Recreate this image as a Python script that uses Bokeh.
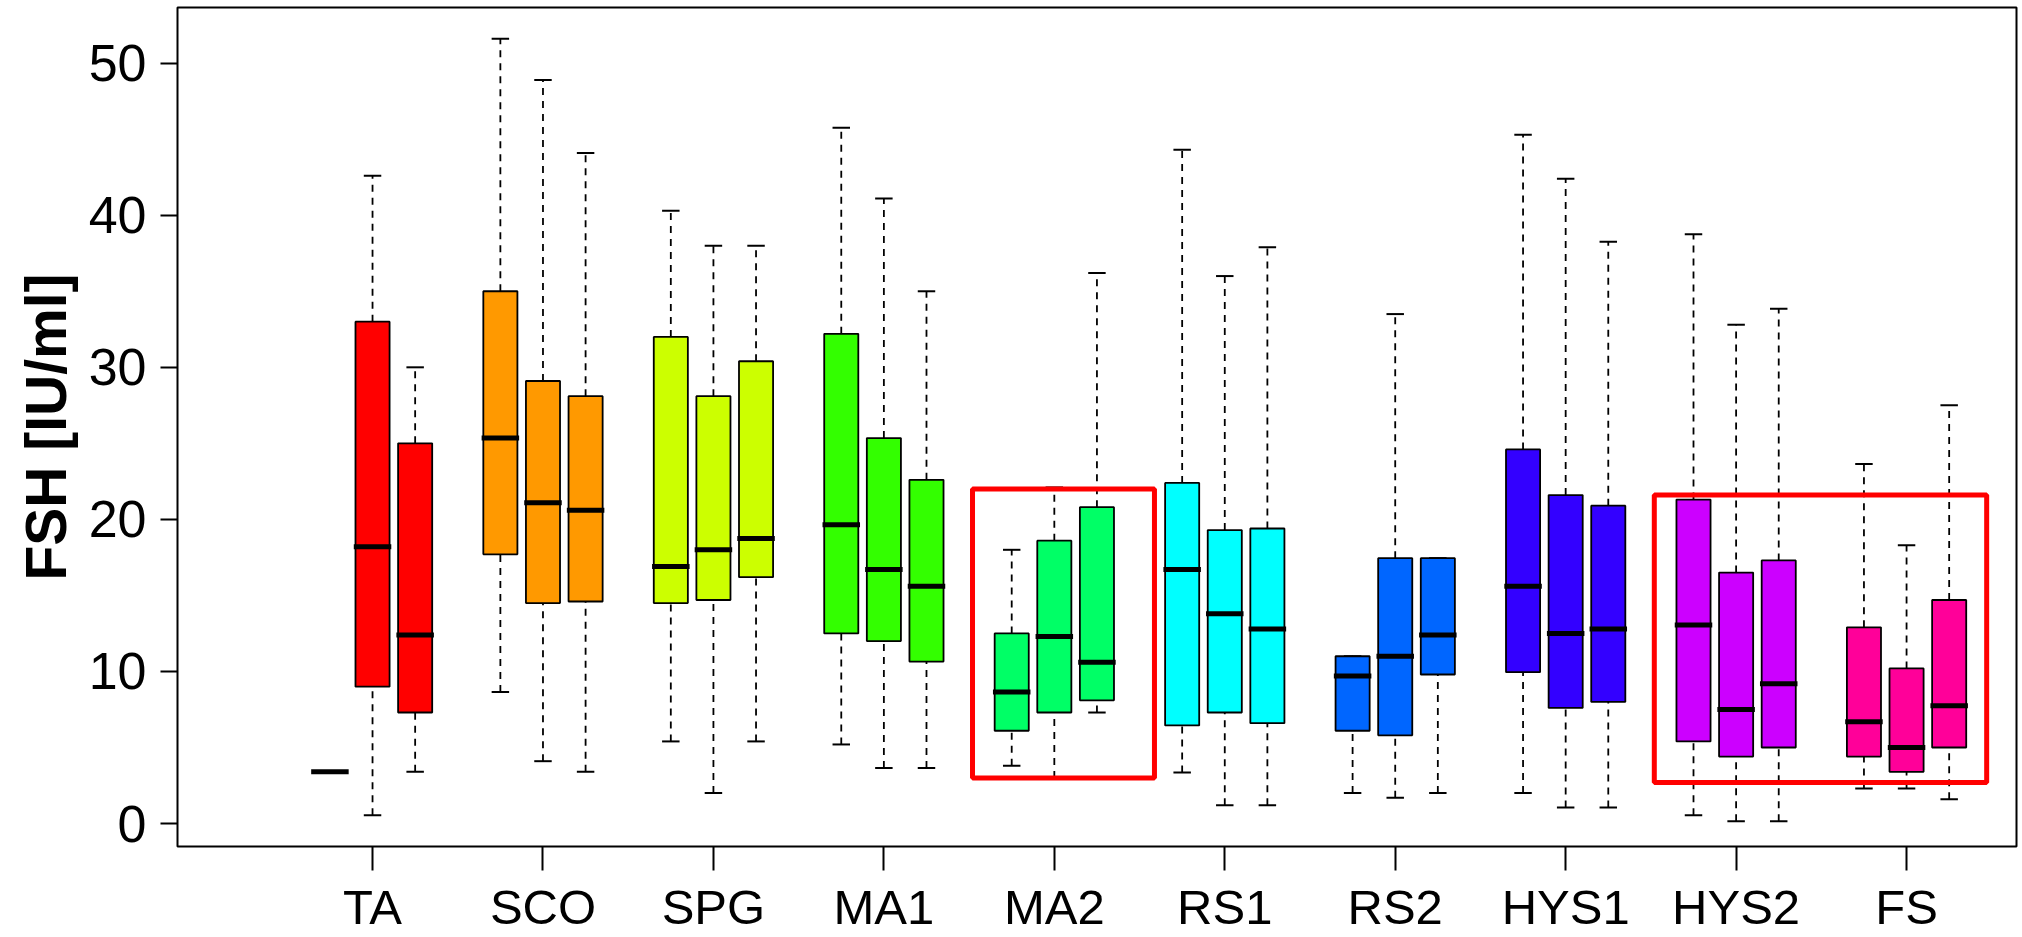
from bokeh.plotting import figure
from bokeh.models import Range1d, FixedTicker, ColumnDataSource
from bokeh.embed import file_html
from bokeh.resources import INLINE

groups = ["TA", "SCO", "SPG", "MA1", "MA2", "RS1", "RS2", "HYS1", "HYS2", "FS"]
colors = ["#FF0000", "#FF9900", "#CCFF00", "#33FF00", "#00FF66",
          "#00FFFF", "#0066FF", "#3300FF", "#CC00FF", "#FF0099"]

# three boxes per group: lower whisker, Q1, median, Q3, upper whisker
whisker_low = [[3.4, 0.55, 3.4], [8.65, 4.1, 3.4], [5.4, 2.0, 5.4], [5.2, 3.65, 3.65],
               [3.8, 3.0, 7.3], [3.35, 1.2, 1.2], [2.0, 1.7, 2.0], [2.0, 1.05, 1.05],
               [0.55, 0.15, 0.15], [2.3, 2.3, 1.6]]
q1 = [[3.4, 9.0, 7.3], [17.7, 14.5, 14.6], [14.5, 14.7, 16.2], [12.5, 12.0, 10.65],
      [6.1, 7.3, 8.1], [6.45, 7.3, 6.6], [6.1, 5.8, 9.8], [9.95, 7.6, 8.0],
      [5.4, 4.4, 5.0], [4.4, 3.4, 5.0]]
median = [[3.4, 18.2, 12.4], [25.35, 21.1, 20.6], [16.9, 18.0, 18.75], [19.65, 16.7, 15.6],
          [8.65, 12.3, 10.6], [16.7, 13.8, 12.8], [9.7, 11.0, 12.4], [15.6, 12.5, 12.8],
          [13.05, 7.5, 9.2], [6.7, 5.0, 7.75]]
q3 = [[3.4, 33.0, 25.0], [35.0, 29.1, 28.1], [32.0, 28.1, 30.4], [32.2, 25.35, 22.6],
      [12.5, 18.6, 20.8], [22.4, 19.3, 19.4], [11.0, 17.45, 17.45], [24.6, 21.6, 20.9],
      [21.3, 16.5, 17.3], [12.9, 10.2, 14.7]]
whisker_high = [[3.4, 42.6, 30.0], [51.6, 48.9, 44.1], [40.3, 38.0, 38.0], [45.75, 41.1, 35.0],
                [18.0, 22.1, 36.2], [44.3, 36.0, 37.9], [11.0, 33.5, 17.45], [45.3, 42.4, 38.25],
                [38.75, 32.8, 33.85], [23.65, 18.3, 27.5]]
y_ticks = [0, 10, 20, 30, 40, 50]

# highlight rectangles (x from, x to, y bottom, y top) in data units
highlight_left = [16.08, 32.08]
highlight_right = [20.35, 39.88]
highlight_bottom = [3.0, 2.7]
highlight_top = [22.0, 21.6]

BOX_W = 0.8
CAP_W = 0.41
MED_W = 0.88
Y_MIN, Y_MAX = -1.51, 53.66

xs, lo, a, m, b, hi, col = [], [], [], [], [], [], []
for g in range(len(groups)):
    for k in range(3):
        xs.append(4 * g + k + 1)
        lo.append(whisker_low[g][k]); a.append(q1[g][k]); m.append(median[g][k])
        b.append(q3[g][k]); hi.append(whisker_high[g][k]); col.append(colors[g])

src = ColumnDataSource(dict(
    x=xs, lo=lo, q1=a, med=m, q3=b, hi=hi, color=col,
    left=[x - BOX_W / 2 for x in xs], right=[x + BOX_W / 2 for x in xs],
    cl=[x - CAP_W / 2 for x in xs], cr=[x + CAP_W / 2 for x in xs],
    ml=[x - MED_W / 2 for x in xs], mr=[x + MED_W / 2 for x in xs],
))

p = figure(width=2022, height=937, x_range=Range1d(-2.577, 40.58), y_range=Range1d(Y_MIN, Y_MAX),
           output_backend="svg", toolbar_location=None,
           min_border_left=177, min_border_right=6, min_border_top=7, min_border_bottom=91)
p.background_fill_color = "white"
p.border_fill_color = "white"
p.outline_line_color = "black"
p.outline_line_width = 2
p.xgrid.visible = False
p.ygrid.visible = False

# whiskers
p.segment(x0="x", y0="q3", x1="x", y1="hi", source=src, line_color="black", line_width=1.8, line_dash="7 6")
p.segment(x0="x", y0="lo", x1="x", y1="q1", source=src, line_color="black", line_width=1.8, line_dash="7 6")
p.segment(x0="cl", y0="hi", x1="cr", y1="hi", source=src, line_color="black", line_width=2)
p.segment(x0="cl", y0="lo", x1="cr", y1="lo", source=src, line_color="black", line_width=2)
# boxes
p.quad(left="left", right="right", bottom="q1", top="q3", source=src,
       fill_color="color", line_color="black", line_width=1.8)
# medians
p.segment(x0="ml", y0="med", x1="mr", y1="med", source=src, line_color="black", line_width=5)

# highlight frames
p.quad(left=highlight_left, right=highlight_right, bottom=highlight_bottom, top=highlight_top,
       fill_color=None, line_color="#FF0000", line_width=5)

font = "Liberation Sans"

p.yaxis.ticker = FixedTicker(ticks=y_ticks)
p.yaxis.minor_tick_line_color = None
p.yaxis.major_tick_in = 0
p.yaxis.major_tick_out = 17
p.yaxis.major_tick_line_width = 2
p.yaxis.axis_line_color = None
p.yaxis.major_label_text_font = font
p.yaxis.major_label_text_font_size = "52px"
p.yaxis.major_label_text_color = "black"
p.yaxis.major_label_standoff = 14
p.yaxis.axis_label = "FSH [IU/ml]"
p.yaxis.axis_label_text_font = font
p.yaxis.axis_label_text_font_style = "bold"
p.yaxis.axis_label_text_font_size = "57px"
p.yaxis.axis_label_text_color = "black"
p.yaxis.axis_label_standoff = 8

tick_x = [4 * g + 2 for g in range(len(groups))]
p.xaxis.ticker = FixedTicker(ticks=tick_x)
p.xaxis.major_label_overrides = {t: name for t, name in zip(tick_x, groups)}
p.xaxis.minor_tick_line_color = None
p.xaxis.major_tick_in = 0
p.xaxis.major_tick_out = 24
p.xaxis.major_tick_line_width = 2
p.xaxis.axis_line_color = None
p.xaxis.major_label_text_font = font
p.xaxis.major_label_text_font_size = "49px"
p.xaxis.major_label_text_color = "black"
p.xaxis.major_label_standoff = 9

open("out.html", "w").write(file_html(p, INLINE))
